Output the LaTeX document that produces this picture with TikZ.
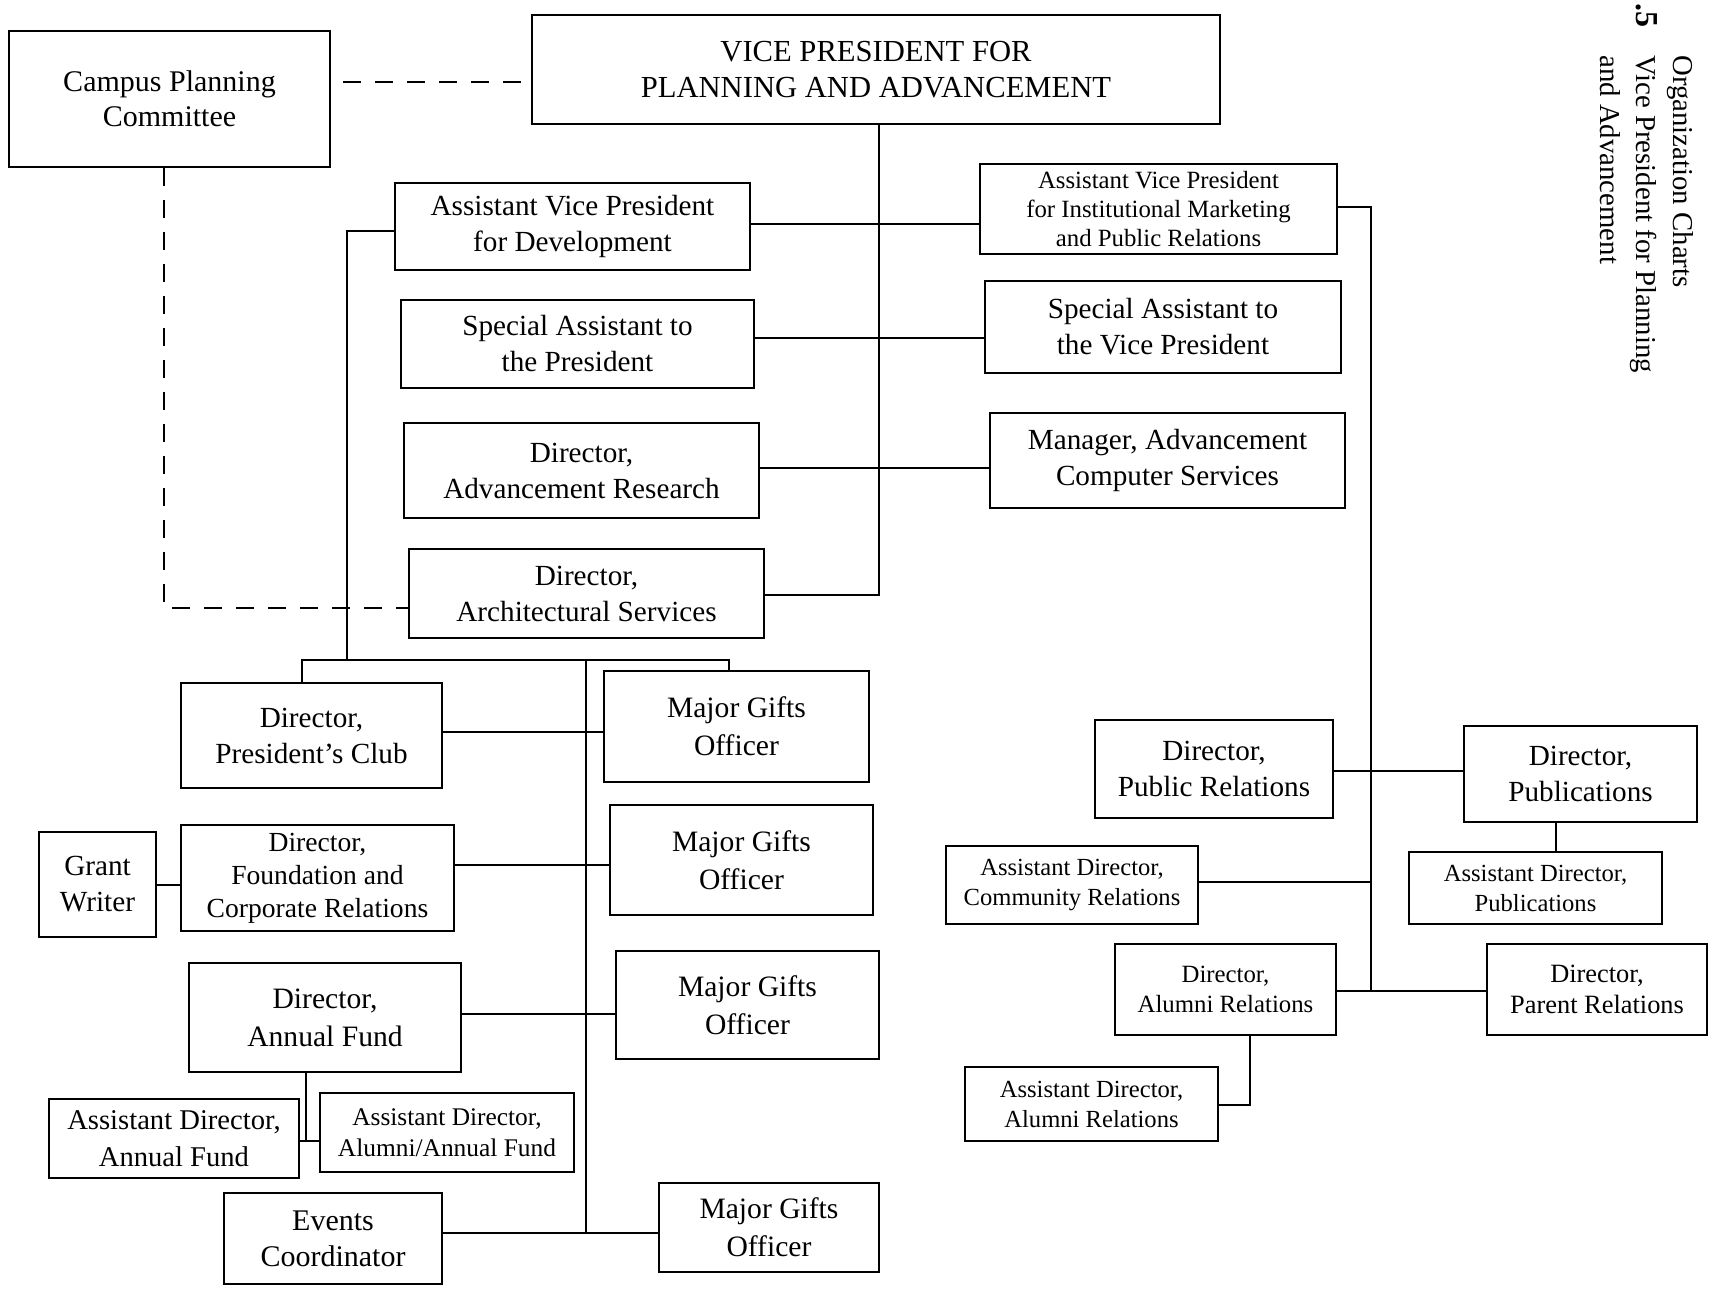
\documentclass[tikz,border=0pt]{standalone}
\usepackage{fontspec}
\setmainfont{Liberation Serif}
% box with corners (x1,y1)-(x2,y2): name, x1, y1, x2, y2, style, text
\newcommand\orgbox[7]{%
  \node[orgnode,#6,minimum width={(#4-#2)*0.5pt},minimum height={(#5-#3)*0.5pt}]
    (#1) at ({(#2+#4)/2},{(#3+#5)/2}) {#7};}
\begin{document}
\begin{tikzpicture}[x=0.5pt,y=-0.5pt,
  orgnode/.style={draw=black,line width=1.4pt,inner sep=0pt,align=center,fill=white},
  link/.style={line width=1.1pt},
  dashlink/.style={line width=1.1pt,dash pattern=on 9pt off 7pt},
  fvp/.style={font=\fontsize{15.3}{18}\selectfont},
  fbig/.style={font=\fontsize{14.6}{18}\selectfont},
  fmg/.style={font=\fontsize{14.8}{19}\selectfont},
  fmid/.style={font=\fontsize{13.8}{16.4}\selectfont},
  fsmall/.style={font=\fontsize{12.3}{15}\selectfont},
  ftitle/.style={font=\fontsize{14.4}{18}\selectfont}]
\useasboundingbox[fill=white] (0,0) rectangle (1712,1290);

% ---- top level
\orgbox{camp}{9}{31}{330}{167}{font=\fontsize{15}{17.5}\selectfont}{Campus Planning\\Committee}
\orgbox{vp}{532}{15}{1220}{124}{fvp}{VICE PRESIDENT FOR\\PLANNING AND ADVANCEMENT}

% ---- staff reporting to the vice president
\orgbox{avpdev}{395}{183}{750}{270}{fbig}{Assistant Vice President\\for Development}
\orgbox{spres}{401}{300}{754}{388}{fbig}{Special Assistant to\\the President}
\orgbox{dar}{404}{423}{759}{518}{fbig}{Director,\\Advancement Research}
\orgbox{das}{409}{549}{764}{638}{fbig}{Director,\\Architectural Services}
\orgbox{avpmkt}{980}{164}{1337}{254}{font=\fontsize{12.4}{14.7}\selectfont}{Assistant Vice President\\for Institutional Marketing\\and Public Relations}
\orgbox{svp}{985}{281}{1341}{373}{fbig}{Special Assistant to\\the Vice President}
\orgbox{mgr}{990}{413}{1345}{508}{fbig}{Manager, Advancement\\Computer Services}

% ---- development
\orgbox{pclub}{181}{683}{442}{788}{fbig}{Director,\\President's Club}
\orgbox{mg1}{604}{671}{869}{782}{fmg}{Major Gifts\\Officer}
\orgbox{gw}{39}{832}{156}{937}{fbig}{Grant\\Writer}
\orgbox{found}{181}{825}{454}{931}{fmid}{Director,\\Foundation and\\Corporate Relations}
\orgbox{mg2}{610}{805}{873}{915}{fmg}{Major Gifts\\Officer}
\orgbox{af}{189}{963}{461}{1072}{fmg}{Director,\\Annual Fund}
\orgbox{mg3}{616}{951}{879}{1059}{fmg}{Major Gifts\\Officer}
\orgbox{adaf}{49}{1099}{299}{1178}{font=\fontsize{14.3}{18.5}\selectfont}{Assistant Director,\\Annual Fund}
\orgbox{adalaf}{320}{1093}{574}{1172}{font=\fontsize{12.7}{15.3}\selectfont}{Assistant Director,\\Alumni/Annual Fund}
\orgbox{ev}{224}{1193}{442}{1284}{font=\fontsize{15}{18}\selectfont}{Events\\Coordinator}
\orgbox{mg4}{659}{1183}{879}{1272}{fmg}{Major Gifts\\Officer}

% ---- marketing and public relations
\orgbox{pr}{1095}{720}{1333}{818}{fbig}{Director,\\Public Relations}
\orgbox{pub}{1464}{726}{1697}{822}{fbig}{Director,\\Publications}
\orgbox{adcr}{946}{846}{1198}{924}{fsmall}{Assistant Director,\\Community Relations}
\orgbox{adpub}{1409}{852}{1662}{924}{fsmall}{Assistant Director,\\Publications}
\orgbox{alr}{1115}{944}{1336}{1035}{font=\fontsize{12.4}{14.7}\selectfont}{Director,\\Alumni Relations}
\orgbox{par}{1487}{944}{1707}{1035}{font=\fontsize{13.2}{15.8}\selectfont}{Director,\\Parent Relations}
\orgbox{adalr}{965}{1067}{1218}{1141}{fsmall}{Assistant Director,\\Alumni Relations}

% ---- junction points
\coordinate (ch) at (0,82);
\coordinate (cd) at (164,608);
\coordinate (tk) at (879,595);
\coordinate (r1) at (0,224);
\coordinate (r2) at (0,338);
\coordinate (r3) at (0,468);
\coordinate (devy) at (347,231);
\coordinate (brk) at (347,660);
\coordinate (bl) at (302,660);
\coordinate (br) at (729,660);
\coordinate (dt) at (586,660);
\coordinate (d1) at (586,732);
\coordinate (d2) at (586,865);
\coordinate (d3) at (586,1014);
\coordinate (dtb) at (586,1233);
\coordinate (gwy) at (168,885);
\coordinate (afx) at (306,1141);
\coordinate (sp1) at (1371,207);
\coordinate (sp2) at (1371,991);
\coordinate (prr) at (1371,771);
\coordinate (cr) at (1371,882);
\coordinate (pbx) at (1556,0);
\coordinate (ax) at (1250,1105);

% ---- dashed advisory links
\draw[dashlink] ([xshift=6pt]camp.east |- ch) -- (vp.west |- ch);
\draw[dashlink] (camp.south -| cd) -- (cd) -- (das.west |- cd);

% ---- vice president trunk and rows
\draw[link] (vp.south -| tk) -- (tk) -- (das.east |- tk);
\draw[link] (avpdev.east |- r1) -- (avpmkt.west |- r1);
\draw[link] (spres.east |- r2) -- (svp.west |- r2);
\draw[link] (dar.east |- r3) -- (mgr.west |- r3);

% ---- development branch
\draw[link] (avpdev.west |- devy) -- (devy) -- (brk);
\draw[link] (pclub.north -| bl) -- (bl) -- (br) -- (mg1.north -| br);
\draw[link] (dt) -- (dtb);
\draw[link] (pclub.east |- d1) -- (mg1.west |- d1);
\draw[link] (found.east |- d2) -- (mg2.west |- d2);
\draw[link] (af.east |- d3) -- (mg3.west |- d3);
\draw[link] (ev.east |- dtb) -- (mg4.west |- dtb);
\draw[link] (gw.east |- gwy) -- (found.west |- gwy);
\draw[link] (af.south -| afx) -- (afx);
\draw[link] (adaf.east |- afx) -- (adalaf.west |- afx);

% ---- marketing branch
\draw[link] (avpmkt.east |- sp1) -- (sp1) -- (sp2);
\draw[link] (pr.east |- prr) -- (pub.west |- prr);
\draw[link] (adcr.east |- cr) -- (cr);
\draw[link] (pub.south -| pbx) -- (adpub.north -| pbx);
\draw[link] (alr.east |- sp2) -- (par.west |- sp2);
\draw[link] (alr.south -| ax) -- (ax) -- (adalr.east |- ax);

% ---- running head
\node[ftitle,rotate=-90,anchor=base west,inner sep=0pt] (h1) at (1673,55) {Organization Charts};
\node[ftitle,rotate=-90,anchor=base west,inner sep=0pt] (h2) at (1636,55) {Vice President for Planning};
\node[ftitle,rotate=-90,anchor=base west,inner sep=0pt] (h3) at (1600,55) {and Advancement};
\node[rotate=-90,anchor=base east,inner sep=0pt,font=\fontsize{16}{18}\selectfont\bfseries] (h0) at (1636,28) {.5};
\end{tikzpicture}
\end{document}
